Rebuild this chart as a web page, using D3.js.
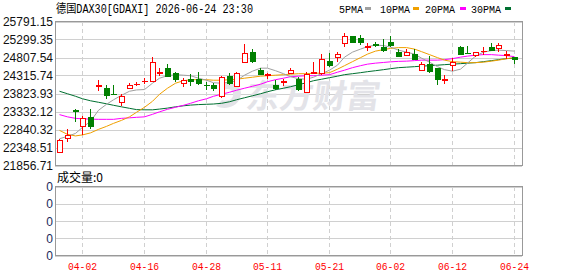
<!DOCTYPE html>
<html>
<head>
<meta charset="utf-8">
<script src="https://cdn.jsdelivr.net/npm/d3@7"></script>
<style>
  html, body { margin: 0; padding: 0; background: #fff; }
  svg { display: block; }
</style>
</head>
<body>
<div id="chart"></div>
<script>
// ===== Daten =====
const dates = ['03-30','03-31','04-01','04-02','04-07','04-08','04-09','04-10','04-13','04-14',
  '04-15','04-16','04-17','04-20','04-21','04-22','04-23','04-24','04-27','04-28',
  '04-29','04-30','05-04','05-05','05-06','05-07','05-08','05-11','05-12','05-13',
  '05-14','05-15','05-18','05-19','05-20','05-21','05-22','05-25','05-26','05-27',
  '05-28','05-29','06-01','06-02','06-03','06-04','06-05','06-08','06-09','06-10',
  '06-11','06-12','06-15','06-16','06-17','06-18','06-19','06-22','06-23','06-24'];

const open = [22240,22588,23360,22934,23181,24030,23986,23816,23575,23975,
  24080,24150,24167,24400,24507,24386,24096,24222,24232,24055,
  24068,23748,24296,24050,24672,24946,24479,24330,24049,24150,
  24386,24232,23847,24385,24370,24717,24808,25209,25393,25329,
  25105,25165,25100,25237,24946,24891,24899,24460,24617,24507,
  24195,24598,25100,24925,24872,24975,25083,25072,24880,24809];
const high = [22570,22843,23400,23219,23411,24186,24050,24050,23803,24112,
  24140,24261,24809,24507,24617,24414,24250,24370,24414,24140,
  24112,24296,24397,24414,25173,25028,24524,24386,24205,24233,
  24507,24277,24414,24688,24891,24918,24963,25467,25400,25420,
  25210,25220,25310,25401,25028,25028,25036,24688,24846,24524,
  24324,24798,25127,25118,24963,25083,25192,25192,24990,24826];
const low = [22194,22495,23043,22698,22862,23893,23666,23803,23482,23959,
  24022,24077,24160,24296,24277,24140,24004,24022,24068,23932,
  23893,23712,24050,24004,24665,24645,24324,24232,23932,24031,
  24370,23884,23840,24380,24343,24551,24688,25100,25210,25146,
  24990,25083,24946,25083,24809,24845,24762,24433,24387,24068,
  24077,24441,24918,24908,24826,24872,24990,24946,24754,24617];
const close = [22561,22679,23340,23164,22926,24060,23803,23810,23748,24049,
  24090,24160,24688,24415,24296,24214,24186,24159,24113,24045,
  23975,24277,24095,24397,24918,24688,24370,24350,23959,24165,
  24460,23959,24351,24400,24754,24598,24899,25401,25219,25209,
  25120,25150,25028,25146,24845,24963,24762,24625,24433,24214,
  24210,24688,24918,24915,24946,24985,25009,25146,24900,24754];

// Gleitende Durchschnitte
const ma5 = [22589,22652,22734,22899,23063,23365,23529,23652,23776,23885,
  23921,23932,24105,24242,24310,24338,24324,24310,24242,24187,
  24118,24105,24132,24173,24324,24434,24516,24516,24447,24365,
  24283,24228,24214,24269,24365,24461,24598,24817,24954,25037,
  25105,25146,25133,25092,25009,24954,24900,24790,24680,24557,
  24475,24434,24489,24653,24845,24954,24996,25009,24996,24982];
const ma10 = [22816,22707,22665,22693,22748,22844,22926,23008,23090,23186,
  23310,23447,23611,23803,23968,24105,24173,24201,24201,24201,
  24187,24187,24201,24214,24242,24269,24297,24310,24324,24338,
  24351,24365,24365,24379,24379,24393,24489,24584,24694,24804,
  24900,24982,25023,25056,25078,25078,25037,24968,24886,24804,
  24735,24694,24680,24667,24667,24680,24708,24735,24776,24804];
const ma20 = [23247,23186,23145,23132,23123,23118,23118,23118,23145,23159,
  23173,23186,23255,23323,23392,23447,23502,23556,23625,23680,
  23748,23803,23858,23913,23968,24022,24077,24146,24201,24242,
  24283,24297,24310,24310,24324,24338,24406,24461,24530,24584,
  24626,24653,24672,24689,24702,24708,24722,24735,24735,24735,
  24749,24776,24817,24845,24872,24886,24886,24872,24859,24831];
const ma30 = [23885,23817,23748,23680,23625,23584,23543,23502,23460,23419,
  23384,23378,23378,23398,23425,23460,23488,23507,23521,23529,
  23537,23556,23598,23652,23707,23762,23817,23872,23926,23968,
  24009,24064,24118,24173,24214,24256,24297,24338,24365,24393,
  24420,24447,24475,24502,24530,24543,24557,24571,24584,24598,
  24612,24626,24639,24653,24667,24694,24722,24749,24776,24790];

const yTicks = [25791.15, 25299.35, 24807.54, 24315.74, 23823.93, 23332.12, 22840.32, 22348.51, 21856.71];
const xTicks = ['04-02','04-16','04-28','05-11','05-21','06-02','06-12','06-24'];
const volTicks = [0, 0, 0, 0, 0];

// ===== Layout =====
const W = 578, H = 276;
const left = 55, right = 522;
const mainTop = 21.5, mainBottom = 165.5;
const volTop = 186.5, volBottom = 255.5;

const svg = d3.select('#chart').append('svg')
  .attr('width', W)
  .attr('height', H);

const x = d3.scaleBand().domain(dates).range([56, 518]).padding(0);
const cx = d => Math.floor(x(d) + x.bandwidth() / 2) + 0.5;

const y = d3.scaleLinear()
  .domain([yTicks[yTicks.length - 1], yTicks[0]])
  .range([mainBottom, mainTop]);

const yVol = d3.scaleLinear().domain([0, 4]).range([volBottom, volTop]);

const red = '#ff0000', green = '#008000';
const gridColor = '#d0d0d0';
const monoFont = '"Liberation Mono", "DejaVu Sans Mono", monospace';

// ===== Titel =====
svg.append('text')
  .attr('x', 56).attr('y', 13)
  .attr('font-family', monoFont + ', "Noto Sans CJK SC"')
  .attr('font-size', 12)
  .attr('textLength', 197)
  .attr('lengthAdjust', 'spacingAndGlyphs')
  .attr('fill', '#000')
  .text('德国DAX30[GDAXI] 2026-06-24 23:30');

// Legende
const legend = [
  { name: '5PMA', color: '#a0a0a0', tx: 339, mx: 365 },
  { name: '10PMA', color: '#f0a000', tx: 380, mx: 413 },
  { name: '20PMA', color: '#ff00ff', tx: 425, mx: 460 },
  { name: '30PMA', color: '#007030', tx: 471, mx: 505 }
];
const lg = svg.append('g');
lg.selectAll('text').data(legend).enter().append('text')
  .attr('x', d => d.tx).attr('y', 13)
  .attr('font-family', monoFont)
  .attr('font-size', 11)
  .attr('textLength', d => d.name.length * 6)
  .attr('lengthAdjust', 'spacingAndGlyphs')
  .attr('fill', '#000')
  .text(d => d.name);
lg.selectAll('rect').data(legend).enter().append('rect')
  .attr('x', d => d.mx).attr('y', 7)
  .attr('width', 6).attr('height', 3)
  .attr('fill', d => d.color);

// ===== Hauptbereich: Gitter =====
const grid = svg.append('g').attr('shape-rendering', 'crispEdges');
grid.selectAll('line.h').data(yTicks).enter().append('line')
  .attr('x1', left).attr('x2', right)
  .attr('y1', d => Math.round(y(d)) + 0.5).attr('y2', d => Math.round(y(d)) + 0.5)
  .attr('stroke', gridColor);
grid.selectAll('line.v').data(xTicks).enter().append('line')
  .attr('x1', d => cx(d)).attr('x2', d => cx(d))
  .attr('y1', mainTop).attr('y2', mainBottom)
  .attr('stroke', gridColor)
  .attr('stroke-dasharray', '4,3');

// Wasserzeichen
const wm = svg.append('g').attr('fill', '#e3e3e8');
wm.append('text')
  .attr('x', 246).attr('y', 108)
  .attr('transform', 'skewX(-8) translate(14,0)')
  .attr('font-family', '"Noto Sans CJK SC", sans-serif')
  .attr('font-weight', 'bold')
  .attr('font-size', 33)
  .attr('textLength', 134)
  .attr('lengthAdjust', 'spacingAndGlyphs')
  .text('东方财富');
wm.append('path')
  .attr('d', 'M222,84 C236,80 244,88 240,98 C236,108 224,110 216,106 L222,100 C230,102 234,98 233,93 C232,88 226,88 220,91 Z');

// Rahmen
svg.append('rect')
  .attr('x', left + 0.5).attr('y', mainTop)
  .attr('width', right - left).attr('height', mainBottom - mainTop)
  .attr('fill', 'none').attr('stroke', '#999')
  .attr('shape-rendering', 'crispEdges');

// Y-Achse Beschriftung
svg.append('g').selectAll('text').data(yTicks).enter().append('text')
  .attr('x', 53).attr('y', d => y(d) + 4.5)
  .attr('text-anchor', 'end')
  .attr('font-family', '"Liberation Sans", Arial, sans-serif')
  .attr('font-size', 12)
  .attr('fill', '#111')
  .text(d => d.toFixed(2));

// ===== Gleitende Durchschnitte =====
const maSeries = [
  { values: ma30, color: '#007030' },
  { values: ma20, color: '#ff00ff' },
  { values: ma10, color: '#f0a000' },
  { values: ma5, color: '#a0a0a0' }
];
const line = d3.line()
  .x((d, i) => cx(dates[i]))
  .y(d => y(d));
svg.append('g').selectAll('path').data(maSeries).enter().append('path')
  .attr('d', d => line(d.values))
  .attr('fill', 'none')
  .attr('stroke', d => d.color)
  .attr('stroke-width', 1);

// ===== Kerzen =====
const candles = dates.map((d, i) => ({
  date: d, o: open[i], h: high[i], l: low[i], c: close[i]
}));
const candle = svg.append('g')
  .attr('shape-rendering', 'crispEdges')
  .selectAll('g')
  .data(candles)
  .enter().append('g');

candle.append('line')
  .attr('x1', d => cx(d.date)).attr('x2', d => cx(d.date))
  .attr('y1', d => y(d.h)).attr('y2', d => y(d.l))
  .attr('stroke', d => d.c >= d.o ? red : green);

candle.append('rect')
  .attr('x', d => cx(d.date) - 2.5)
  .attr('y', d => Math.round(y(Math.max(d.o, d.c))) + 0.5)
  .attr('width', 5)
  .attr('height', d => Math.max(0.01, Math.round(Math.abs(y(d.o) - y(d.c)))))
  .attr('fill', d => d.c >= d.o ? '#fff' : green)
  .attr('stroke', d => d.c >= d.o ? red : green);

// ===== Volumen =====
svg.append('text')
  .attr('x', 57).attr('y', 182)
  .attr('font-family', '"Noto Sans CJK SC", sans-serif')
  .attr('font-size', 12)
  .attr('fill', '#000')
  .text('成交量:0');

const vgrid = svg.append('g').attr('shape-rendering', 'crispEdges');
vgrid.selectAll('line.h').data(volTicks).enter().append('line')
  .attr('x1', left).attr('x2', right)
  .attr('y1', (d, i) => Math.round(yVol(i)) + 0.5).attr('y2', (d, i) => Math.round(yVol(i)) + 0.5)
  .attr('stroke', gridColor);
vgrid.selectAll('line.v').data(xTicks).enter().append('line')
  .attr('x1', d => cx(d)).attr('x2', d => cx(d))
  .attr('y1', volTop).attr('y2', volBottom)
  .attr('stroke', gridColor)
  .attr('stroke-dasharray', '4,3');
svg.append('rect')
  .attr('x', left + 0.5).attr('y', volTop)
  .attr('width', right - left).attr('height', volBottom - volTop)
  .attr('fill', 'none').attr('stroke', '#999')
  .attr('shape-rendering', 'crispEdges');

svg.append('g').selectAll('text').data(volTicks).enter().append('text')
  .attr('x', 53).attr('y', (d, i) => yVol(i) + 4.5)
  .attr('text-anchor', 'end')
  .attr('font-family', '"Liberation Sans", Arial, sans-serif')
  .attr('font-size', 12)
  .attr('fill', '#1a2a5a')
  .text(d => d);

// X-Achse Beschriftung
svg.append('g').selectAll('text').data(xTicks).enter().append('text')
  .attr('x', d => cx(d)).attr('y', 270)
  .attr('text-anchor', 'middle')
  .attr('font-family', monoFont)
  .attr('font-size', 11)
  .attr('textLength', 29)
  .attr('lengthAdjust', 'spacingAndGlyphs')
  .attr('fill', red)
  .text(d => d);
</script>
</body>
</html>
